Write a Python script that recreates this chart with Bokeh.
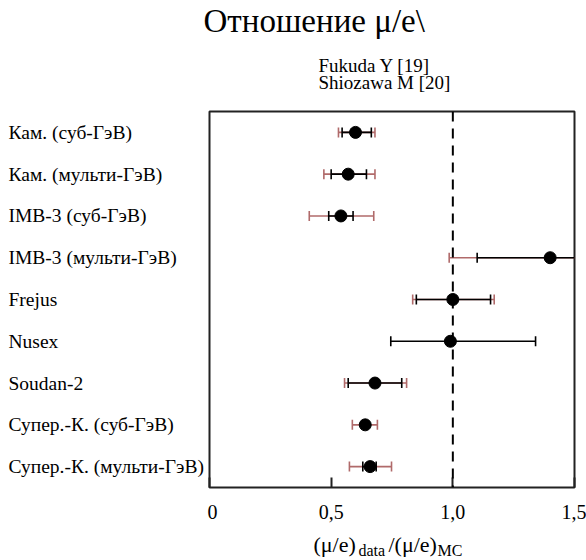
import math
from bokeh.plotting import figure
from bokeh.layouts import column, row
from bokeh.models import Range1d, FixedTicker, ColumnDataSource, Span
from bokeh.core.properties import value
from bokeh.embed import file_html
from bokeh.resources import INLINE

# ---------------- data ----------------
experiments = ["Кам. (суб-ГэВ)", "Кам. (мульти-ГэВ)", "IMB-3 (суб-ГэВ)",
               "IMB-3 (мульти-ГэВ)", "Frejus", "Nusex", "Soudan-2",
               "Супер.-К. (суб-ГэВ)", "Супер.-К. (мульти-ГэВ)"]
ratio = [0.60, 0.57, 0.54, 1.40, 1.00, 0.99, 0.68, 0.64, 0.66]
stat_lo = [0.545, 0.50, 0.49, 1.10, 0.85, 0.745, 0.57, None, 0.63]
stat_hi = [0.665, 0.645, 0.59, 1.70, 1.155, 1.34, 0.79, None, 0.685]
tot_lo = [0.53, 0.47, 0.41, 0.985, 0.835, None, 0.555, 0.587, 0.575]
tot_hi = [0.68, 0.68, 0.675, 1.80, 1.17, None, 0.81, 0.69, 0.748]
x_ticks = [0, 0.5, 1.0, 1.5]
x_tick_labels = ["0", "0,5", "1,0", "1,5"]
reference_value = 1.0
title_text = "Отношение μ/e\\"
sources = ["Fukuda Y [19]", "Shiozawa M [20]"]

rows = list(range(1, len(experiments) + 1))

SERIF = value("Liberation Serif")
RED = "#b06a6a"
W = 586
TOP_H, MAIN_H, BOT_H = 107, 425, 28
LEFT_W = 207
BORDER_BOTTOM = 45


def blank(width, height, **kw):
    f = figure(width=width, height=height, output_backend="svg", toolbar_location=None,
               tools="", min_border=0, **kw)
    f.outline_line_color = None
    f.axis.visible = False
    f.grid.visible = False
    f.background_fill_color = "white"
    f.border_fill_color = "white"
    return f


y_range = Range1d(len(experiments) + 0.5, 0.5)

# ---------------- main plot ----------------
p = figure(width=W - LEFT_W, height=MAIN_H, output_backend="svg", toolbar_location=None,
           x_range=Range1d(0, 1.5), y_range=y_range, tools="",
           min_border_left=2, min_border_right=12, min_border_top=4,
           min_border_bottom=BORDER_BOTTOM)
p.background_fill_color = "white"
p.border_fill_color = "white"
p.outline_line_color = "#222222"
p.outline_line_width = 2
p.grid.visible = False
p.yaxis.visible = False

ax = p.xaxis[0]
ax.ticker = FixedTicker(ticks=x_ticks)
ax.major_label_overrides = {t: l for t, l in zip(x_ticks, x_tick_labels)}
ax.axis_line_color = None
ax.major_tick_in = 10
ax.major_tick_out = 0
ax.major_tick_line_width = 2
ax.major_tick_line_color = "#222222"
ax.minor_tick_line_color = None
ax.major_label_text_font = "Liberation Serif"
ax.major_label_text_font_size = "20px"
ax.major_label_text_color = "black"
ax.major_label_standoff = 17

p.add_layout(Span(location=reference_value, dimension="height", line_color="black",
                  line_width=2, line_dash="10 7"))


def bars(lo, hi, color):
    ys = [r for r, a in zip(rows, lo) if a is not None]
    x0 = [a for a in lo if a is not None]
    x1 = [b for b in hi if b is not None]
    src = ColumnDataSource(dict(y=ys, x0=x0, x1=x1))
    p.segment(x0="x0", y0="y", x1="x1", y1="y", source=src, line_color=color, line_width=1.6)
    for col in ("x0", "x1"):
        p.scatter(x=col, y="y", source=src, marker="dash", angle=math.pi / 2, size=10,
                  line_color=color, line_width=1.6)


bars(tot_lo, tot_hi, RED)
bars(stat_lo, stat_hi, "black")
p.scatter(x=ratio, y=rows, size=12, fill_color="black", line_color="black")

# ---------------- left: row labels ----------------
left = blank(LEFT_W, MAIN_H, x_range=Range1d(0, LEFT_W), y_range=y_range)
left.min_border_top = 4
left.min_border_bottom = BORDER_BOTTOM
left.text(x=[0] * len(rows), y=rows, text=experiments, x_offset=8, text_font=SERIF,
          text_font_size="19.5px", text_baseline="middle", text_align="left",
          text_color="black")

# ---------------- top: title and sources ----------------
top = blank(W, TOP_H, x_range=Range1d(0, W), y_range=Range1d(TOP_H, 0))
top.text(x=[203], y=[20], text=[title_text], text_font=SERIF, text_font_size="33px",
         text_baseline="alphabetic", text_align="left", text_color="black")
top.text(x=[318, 318], y=[65, 82], text=sources, text_font=SERIF, text_font_size="19px",
         text_baseline="alphabetic", text_align="left", text_color="black")

# ---------------- bottom: x axis label with subscripts ----------------
bot = blank(W, BOT_H, x_range=Range1d(0, W), y_range=Range1d(BOT_H, 0))
bot.text(x=[313, 388], y=[12, 12], text=["(μ/e)", "/(μ/e)"], text_font=SERIF,
         text_font_size="22px", text_baseline="alphabetic", text_color="black")
bot.text(x=[358, 437], y=[18, 18], text=["data", "MC"], text_font=SERIF,
         text_font_size="16px", text_baseline="alphabetic", text_color="black")

layout = column(top, row(left, p), bot)
open("out.html", "w").write(file_html(layout, INLINE))
